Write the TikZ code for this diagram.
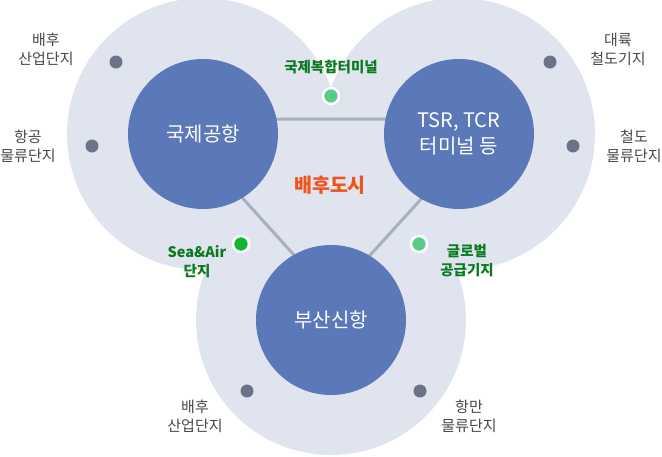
\documentclass[tikz,border=0pt]{standalone}
\usepackage{fontspec}
\setmainfont{Noto Sans CJK KR}
\definecolor{bigc}{HTML}{DFE4EF}
\definecolor{innerc}{HTML}{5B78B8}
\definecolor{linec}{HTML}{A9AEC0}
\definecolor{dotc}{HTML}{6C7389}
\definecolor{txtc}{HTML}{474747}
\definecolor{grn}{HTML}{0B7A1F}
\definecolor{lgdot}{HTML}{5CCB8A}
\definecolor{dgdot}{HTML}{12B634}
\definecolor{orng}{HTML}{F0531C}
\tikzset{
  bigcircle/.style={fill=bigc},
  innercircle/.style={circle,fill=innerc,minimum size=150pt,inner sep=0pt,text=white,align=center,font=\fontsize{20}{26}\selectfont},
  grayd/.style={circle,fill=dotc,minimum size=13pt,inner sep=0pt},
  greend/.style={circle,fill=#1,draw=white,line width=2.5pt,minimum size=16pt,inner sep=0pt},
  glabel/.style={text=txtc,align=center,font=\fontsize{15}{19}\selectfont,inner sep=0pt},
  grlabel/.style={text=grn,align=center,font=\fontsize{14.5}{19}\selectfont\bfseries,inner sep=0pt},
  tri/.style={draw=linec,line width=3pt}
}
\begin{document}
\begin{tikzpicture}[x=1pt,y=-1pt]
\useasboundingbox (0,0) rectangle (662,456);
% big circles
\fill[bigcircle] (203,134) circle (136pt);
\fill[bigcircle] (459,134) circle (136pt);
\fill[bigcircle] (331,320) circle (135pt);
% triangle
\coordinate (ta) at (171,119);
\coordinate (tb) at (494,119);
\coordinate (tc) at (332,297);
\draw[tri] (ta) -- (tb) -- (tc) -- cycle;
% inner circles
\node[innercircle] (air) at (203,134) {국제공항};
\node[innercircle] (tsr) at (459,134) {TSR, TCR\\터미널 등};
\node[innercircle] (port) at (331,320) {부산신항};
% gray dots
\node[grayd] (d1) at (116,62) {};
\node[grayd] (d2) at (92,146) {};
\node[grayd] (d3) at (550,62) {};
\node[grayd] (d4) at (573,146) {};
\node[grayd] (d5) at (247,391) {};
\node[grayd] (d6) at (420,391) {};
% green dots
\node[greend=lgdot] (g1) at (331,96) {};
\node[greend=dgdot] (g2) at (241,244) {};
\node[greend=lgdot] (g3) at (419,244) {};
% labels
\node[glabel] (l1) at (46,49) {배후\\산업단지};
\node[glabel] (l2) at (28,146) {항공\\물류단지};
\node[glabel] (l3) at (618,49) {대륙\\철도기지};
\node[glabel] (l4) at (634,146) {철도\\물류단지};
\node[glabel] (l5) at (195,416) {배후\\산업단지};
\node[glabel] (l6) at (469,416) {항만\\물류단지};
\node[grlabel] (k1) at (331,67) {국제복합터미널};
\node[grlabel] (k2) at (197,262) {Sea\&Air\\단지};
\node[grlabel] (k3) at (467,261) {글로벌\\공급기지};
\node[text=orng,font=\fontsize{19.5}{22}\selectfont\bfseries,inner sep=0pt] (city) at (330,185) {배후도시};
\end{tikzpicture}
\end{document}
